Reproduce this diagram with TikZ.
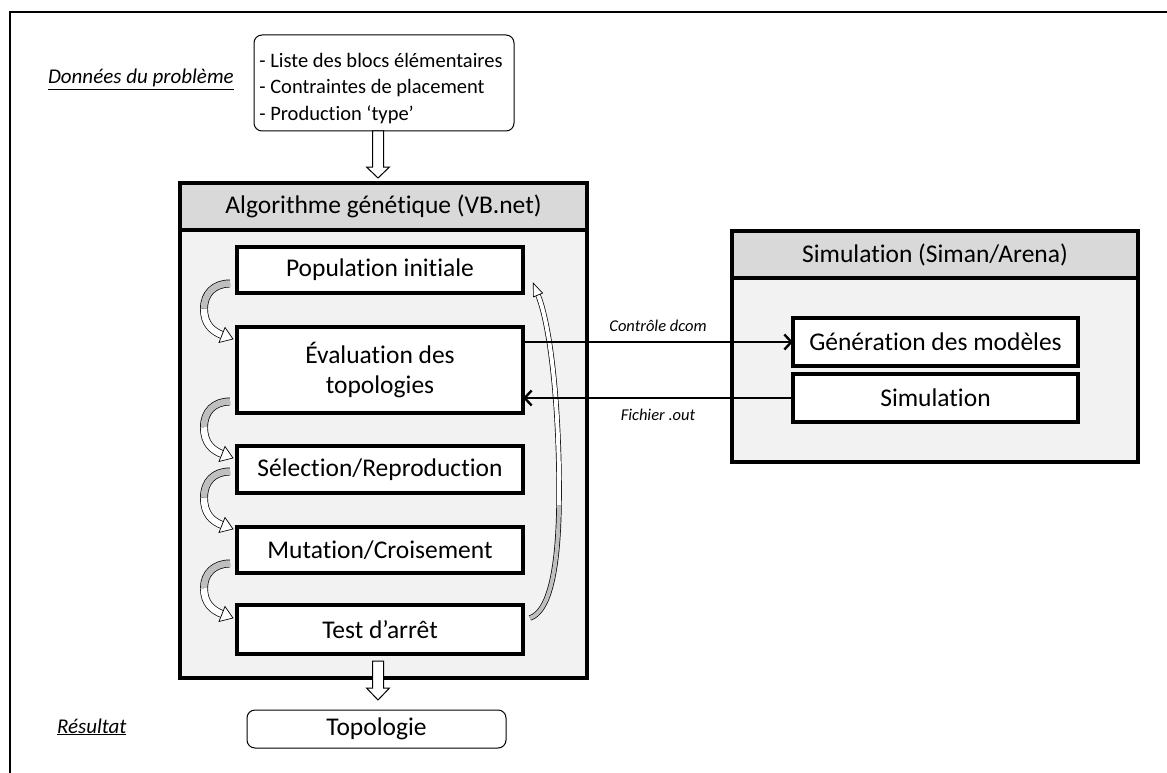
\documentclass[tikz,border=0pt]{standalone}
\usepackage{fontspec}
\setmainfont{Carlito}[Ligatures={TeX,NoCommon}]
\usetikzlibrary{arrows.meta,calc}
\begin{document}
\begin{tikzpicture}[x=1pt,y=-1pt,
 every node/.style={inner sep=0pt, outer sep=0pt},
 big/.style={font=\fontsize{25.5}{30}\selectfont},
 med/.style={font=\fontsize{20.5}{26.5}\selectfont},
 lab/.style={font=\fontsize{16.5}{20}\selectfont\itshape},
 ttl/.style={font=\fontsize{21}{24}\selectfont\itshape},
 inbox/.style={draw, line width=3.2pt, fill=white, minimum width=286pt, big, align=center},
 frame/.style={draw, line width=3.2pt, fill=black!5},
 headbox/.style={draw, line width=3.2pt, fill=black!15, big},
 rbox/.style={draw, line width=1pt, rounded corners=8pt, fill=white},
 conn/.style={line width=2.4pt, -{Straight Barb[length=7pt,width=15pt,line width=2.4pt]}},
 hollow/.style={draw, line width=1pt, fill=white, line join=miter},
 rib/.style={line width=0.7pt, double distance=6.5pt},
 ribthin/.style={line width=0.7pt, double distance=4pt},
]
\useasboundingbox (0,0) rectangle (1167,773);

% outer frame (top and left)
\draw[line width=2.4pt] (10,773) -- (10,12) -- (1167,12);

% genetic algorithm block
\node[frame, minimum width=407pt, minimum height=495pt] (alg) at (383.5,430.5) {};
\node[headbox, minimum width=407pt, minimum height=47pt] (algh) at (383.5,206.5) {Algorithme génétique (VB.net)};
\node[inbox, minimum height=46pt] (pop) at (380,270) {Population initiale};
\node[inbox, minimum height=86pt] (eval) at (380,370) {Évaluation des\\topologies};
\node[inbox, minimum height=47pt] (sel) at (380,469.5) {Sélection/Reproduction};
\node[inbox, minimum height=46pt] (mut) at (380,550) {Mutation/Croisement};
\node[inbox, minimum height=49pt] (test) at (380,629.5) {Test d’arrêt};

% simulation block
\node[frame, minimum width=406pt, minimum height=231pt] (sim) at (935,346.5) {};
\node[headbox, minimum width=406pt, minimum height=47pt] (simh) at (935,254.5) {Simulation (Siman/Arena)};
\node[inbox, minimum width=285pt, minimum height=48pt] (gen) at (935.5,342) {Génération des modèles};
\node[inbox, minimum width=285pt, minimum height=48pt] (simu) at (935.5,398) {Simulation};

% left curved arrows
\foreach \ys/\yt in {283.5/338, 401.5/457, 471.5/528, 563.5/617} {
  \pgfmathsetmacro\ym{(\ys+\yt)/2-2}
  \draw[rib, double=black!25] (230,\ys) .. controls (214,\ys) and (204,\ys+10) .. (204,\ym);
  \draw[rib, double=white] (204,\ym) .. controls (204,\yt-14) and (212,\yt-7) .. (222,\yt-3);
  \draw[hollow, line width=0.7pt] (225,\yt-10.5) -- (233,\yt+1) -- (219,\yt+4.5) -- cycle;
}

% feedback arrow (Test -> Population)
\draw[ribthin, double=black!25] (530,618) .. controls (548,612) and (558,575) .. (559,505);
\draw[ribthin, double=white] (559,505) .. controls (560,420) and (552,330) .. (538,295);
\draw[hollow, line width=0.7pt] (542.6,293.1) -- (533.3,283.2) -- (533.4,296.9) -- cycle;

% connectors
\draw[conn] (eval.east |- gen.west) -- node[lab, above=10pt] {Contrôle dcom} (gen.west);
\draw[conn] (simu.west) -- node[lab, below=11pt] {Fichier .out} (eval.east |- simu.west);

% inputs and outputs
\node[rbox, minimum width=260pt, minimum height=96pt] (liste) at (384,83) {};
\node[med, align=left] (listetxt) at (381,88.5) {- Liste des blocs élémentaires\\- Contraintes de placement\\- Production ‘type’};
\node[rbox, minimum width=259pt, minimum height=38pt, big] (topo) at (376.5,729) {Topologie};

\draw[hollow] (372.5,131) -- (372.5,167) -- (366.5,167) -- (378,178) -- (389.5,167) -- (383.5,167) -- (383.5,131) -- cycle;
\draw[hollow] (372.5,661) -- (372.5,688) -- (366.5,688) -- (378,700) -- (389.5,688) -- (383.5,688) -- (383.5,661) -- cycle;

\node[ttl, anchor=base west] (donnees) at (48,84) {\underline{Données du problème}};
\node[ttl, anchor=base west] (resultat) at (57,733) {\underline{Résultat}};
\end{tikzpicture}
\end{document}
